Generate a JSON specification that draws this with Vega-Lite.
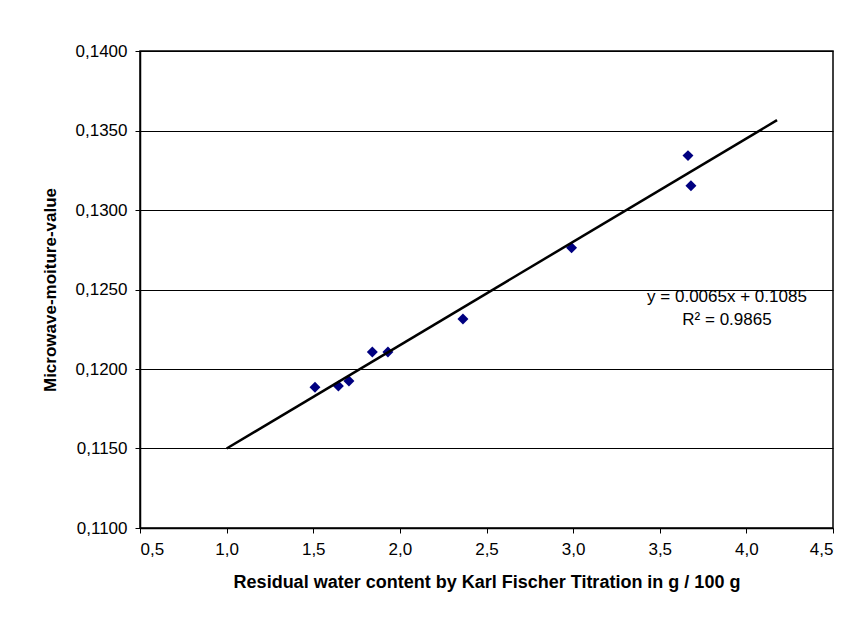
{
  "$schema": "https://vega.github.io/schema/vega-lite/v6.json",
  "width": 693,
  "height": 477,
  "autosize": {"type": "none"},
  "padding": {"left": 140, "top": 51, "right": 29, "bottom": 102},
  "background": "white",
  "config": {
    "font": "Liberation Sans",
    "view": {"stroke": "black", "strokeWidth": 1.5},
    "axis": {
      "labelFont": "Liberation Sans",
      "labelFontSize": 17,
      "labelColor": "black",
      "titleFont": "Liberation Sans",
      "titleFontSize": 17,
      "titleFontWeight": "bold",
      "titleColor": "black",
      "domainColor": "black",
      "domainWidth": 1.5,
      "tickColor": "black",
      "tickSize": 5,
      "tickWidth": 1
    }
  },
  "datasets": {
    "points": [
      {"kf": 1.51, "mw": 0.11885},
      {"kf": 1.645, "mw": 0.11893},
      {"kf": 1.706, "mw": 0.11925},
      {"kf": 1.841, "mw": 0.12107},
      {"kf": 1.931, "mw": 0.12107},
      {"kf": 2.364, "mw": 0.12314},
      {"kf": 2.991, "mw": 0.12763},
      {"kf": 3.663, "mw": 0.13342},
      {"kf": 3.68, "mw": 0.13153}
    ],
    "trend": [
      {"kf": 1.0, "mw": 0.115},
      {"kf": 4.177, "mw": 0.13565}
    ],
    "note": [
      {"kf": 3.888, "mw": 0.12453, "label": "y = 0.0065x + 0.1085"},
      {"kf": 3.888, "mw": 0.12308, "label": "R² = 0.9865"}
    ]
  },
  "layer": [
    {
      "data": {"name": "points"},
      "mark": {"type": "point", "shape": "diamond", "filled": true, "color": "#000080", "size": 120, "opacity": 1},
      "encoding": {
        "x": {
          "field": "kf", "type": "quantitative",
          "scale": {"domain": [0.5, 4.5], "nice": false, "zero": false},
          "axis": {
            "title": "Residual water content by Karl Fischer Titration in g / 100 g",
            "titleFontSize": 18,
            "values": [0.5, 1.0, 1.5, 2.0, 2.5, 3.0, 3.5, 4.0, 4.5],
            "labelExpr": "replace(format(datum.value, '.1f'), '.', ',')",
            "grid": false,
            "labelPadding": 8,
            "titlePadding": 16
          }
        },
        "y": {
          "field": "mw", "type": "quantitative",
          "scale": {"domain": [0.11, 0.14], "nice": false, "zero": false},
          "axis": {
            "title": "Microwave-moiture-value",
            "values": [0.11, 0.115, 0.12, 0.125, 0.13, 0.135, 0.14],
            "labelExpr": "replace(format(datum.value, '.4f'), '.', ',')",
            "grid": true,
            "gridColor": "black",
            "gridWidth": 1,
            "gridOpacity": 1,
            "labelPadding": 8,
            "titlePadding": 16
          }
        }
      }
    },
    {
      "data": {"name": "trend"},
      "mark": {"type": "line", "color": "black", "strokeWidth": 2.5},
      "encoding": {
        "x": {"field": "kf", "type": "quantitative"},
        "y": {"field": "mw", "type": "quantitative"}
      }
    },
    {
      "data": {"name": "note"},
      "mark": {"type": "text", "font": "Liberation Sans", "fontSize": 17, "color": "black", "align": "center", "baseline": "middle"},
      "encoding": {
        "x": {"field": "kf", "type": "quantitative"},
        "y": {"field": "mw", "type": "quantitative"},
        "text": {"field": "label"}
      }
    }
  ]
}
